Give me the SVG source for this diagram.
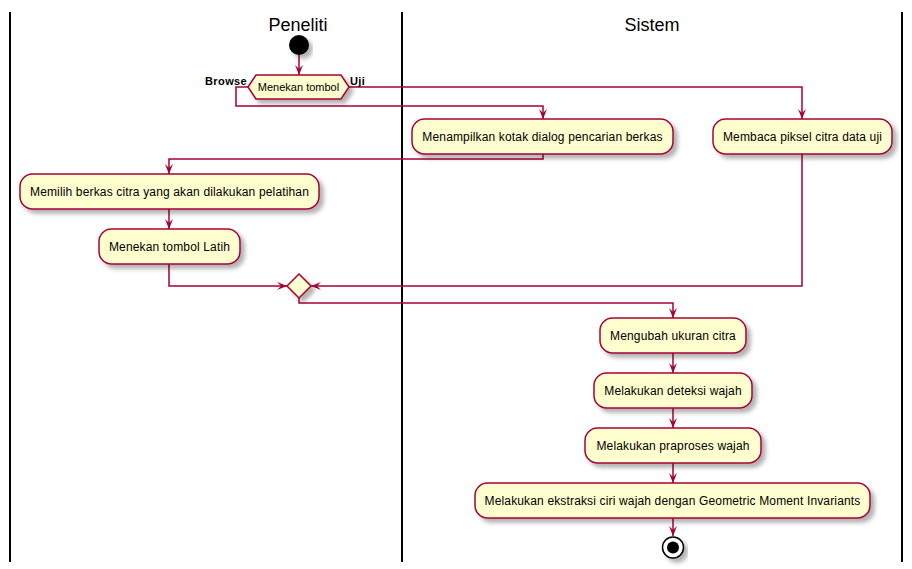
<svg xmlns="http://www.w3.org/2000/svg" width="912" height="569" viewBox="0 0 912 569">
<style>
.lane{stroke:#000;stroke-width:2;fill:none}
.title{font-family:"Liberation Sans",Arial,sans-serif;font-size:18px;fill:#000;text-anchor:middle}
.box{fill:#FEFECE;stroke:#A80036;stroke-width:1.5;filter:url(#sh)}
.txt{font-family:"Liberation Sans",Arial,sans-serif;font-size:12px;fill:#000;text-anchor:middle;letter-spacing:0.15px}
.dtxt{font-family:"Liberation Sans",Arial,sans-serif;font-size:11px;fill:#000;text-anchor:middle}
.lbl{font-family:"Liberation Sans",Arial,sans-serif;font-size:11px;font-weight:bold;fill:#000;letter-spacing:0.4px}
.con{fill:none;stroke:#A80036;stroke-width:1.5;marker-end:url(#ah)}
</style>
<defs>
<filter id="sh" x="-20%" y="-20%" width="140%" height="160%">
<feGaussianBlur in="SourceAlpha" stdDeviation="2"/>
<feOffset dx="4" dy="4" result="b"/>
<feFlood flood-color="#000" flood-opacity="0.3"/>
<feComposite in2="b" operator="in"/>
<feMerge><feMergeNode/><feMergeNode in="SourceGraphic"/></feMerge>
</filter>
<marker id="ah" markerWidth="10" markerHeight="8" refX="10" refY="4" orient="auto" markerUnits="userSpaceOnUse">
<path d="M0,0 L10,4 L0,8 L4,4 Z" fill="#A80036"/>
</marker>
</defs>
<rect width="912" height="569" fill="#fff"/>
<g id="lanes">
<line class="lane" x1="10" y1="12" x2="10" y2="562"/>
<line class="lane" x1="402" y1="12" x2="402" y2="562"/>
<line class="lane" x1="902" y1="12" x2="902" y2="562"/>
<text class="title" x="298" y="31">Peneliti</text>
<text class="title" x="652" y="31">Sistem</text>
</g>
<g id="connectors">
<polyline class="con" points="299,55 299,75"/>
<polyline class="con" points="248,87 236,87 236,106 543,106 543,119"/>
<polyline class="con" points="349,87 802,87 802,119"/>
<polyline class="con" points="543,154 543,159 169,159 169,174"/>
<polyline class="con" points="169,209 169,229"/>
<polyline class="con" points="169,264 169,286 287,286"/>
<polyline class="con" points="802,154 802,286 311,286"/>
<polyline class="con" points="299,298 299,303 673,303 673,318"/>
<polyline class="con" points="673,353 673,373"/>
<polyline class="con" points="673,408 673,428"/>
<polyline class="con" points="673,463 673,483"/>
<polyline class="con" points="673,518 673,536"/>
</g>
<g id="start"><circle cx="299" cy="45" r="10" fill="#000" filter="url(#sh)"/></g>
<g id="decision">
<polygon class="box" points="248,87 256,75 341,75 349,87 341,99 256,99"/>
<text class="dtxt" x="298.5" y="91">Menekan tombol</text>
<text class="lbl" x="205" y="85">Browse</text>
<text class="lbl" x="350" y="85">Uji</text>
</g>
<g id="dialog"><rect class="box" x="412" y="119" width="261" height="35" rx="12.5"/><text class="txt" x="542.5" y="141">Menampilkan kotak dialog pencarian berkas</text></g>
<g id="membaca"><rect class="box" x="713" y="119" width="179" height="35" rx="12.5"/><text class="txt" x="802.5" y="141">Membaca piksel citra data uji</text></g>
<g id="memilih"><rect class="box" x="20" y="174" width="299" height="35" rx="12.5"/><text class="txt" x="169.5" y="196">Memilih berkas citra yang akan dilakukan pelatihan</text></g>
<g id="latih"><rect class="box" x="99" y="229" width="141" height="35" rx="12.5"/><text class="txt" x="169.5" y="251">Menekan tombol Latih</text></g>
<g id="merge"><polygon class="box" points="287,286 299,274 311,286 299,298"/></g>
<g id="ubah"><rect class="box" x="600" y="318" width="146" height="35" rx="12.5"/><text class="txt" x="673" y="340">Mengubah ukuran citra</text></g>
<g id="deteksi"><rect class="box" x="594" y="373" width="158" height="35" rx="12.5"/><text class="txt" x="673" y="395">Melakukan deteksi wajah</text></g>
<g id="praproses"><rect class="box" x="585" y="428" width="176" height="35" rx="12.5"/><text class="txt" x="673" y="450">Melakukan praproses wajah</text></g>
<g id="ekstraksi"><rect class="box" x="475" y="483" width="395" height="35" rx="12.5"/><text class="txt" x="672.5" y="505">Melakukan ekstraksi ciri wajah dengan Geometric Moment Invariants</text></g>
<g id="end" filter="url(#sh)"><circle cx="673" cy="547.5" r="10.5" fill="#fff" stroke="#000" stroke-width="1.5"/><circle cx="673" cy="547.5" r="6" fill="#000"/></g>
</svg>
